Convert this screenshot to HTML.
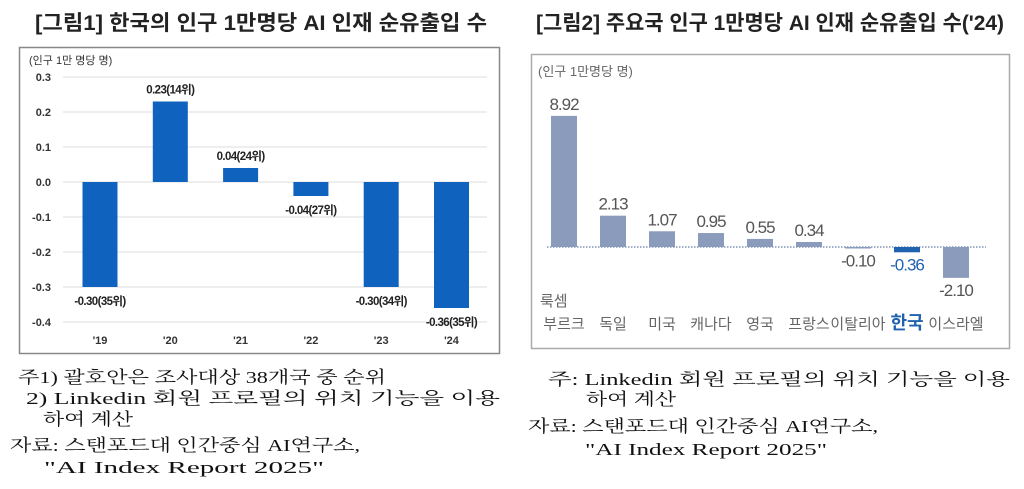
<!DOCTYPE html>
<html><head><meta charset="utf-8"><style>
body{margin:0;background:#fff;}
svg{display:block;}
.t{font-family:"Liberation Sans","Noto Sans CJK KR",sans-serif;}
.s{font-family:"Liberation Serif","Noto Serif CJK SC",serif;}
</style></head><body>
<svg id="root" width="1024" height="489" viewBox="0 0 1024 489" xmlns="http://www.w3.org/2000/svg">
<text class="t" x="261" y="30" text-anchor="middle" font-size="21" font-weight="bold" fill="#222" textLength="452" lengthAdjust="spacingAndGlyphs">[그림1] 한국의 인구 1만명당 AI 인재 순유출입 수</text>
<text class="t" x="770" y="30" text-anchor="middle" font-size="21" font-weight="bold" fill="#222" textLength="468" lengthAdjust="spacingAndGlyphs">[그림2] 주요국 인구 1만명당 AI 인재 순유출입 수('24)</text>
<rect x="19.5" y="47.5" width="480" height="306" fill="none" stroke="#888" stroke-width="1.5"/>
<text class="t" x="29" y="64" font-size="11" fill="#333">(인구 1만 명당 명)</text>
<g id="c1"></g>
<rect x="531.5" y="54.5" width="478" height="294" fill="none" stroke="#aaa" stroke-width="1.5"/>
<text class="t" x="538" y="76" font-size="13" fill="#666">(인구 1만명당 명)</text>
<g id="c2"></g>
<g class="s" font-size="17" fill="#111">
<text x="18" y="383" textLength="368" lengthAdjust="spacingAndGlyphs">주1) 괄호안은 조사대상 38개국 중 순위</text>
<text x="26" y="404" textLength="474" lengthAdjust="spacingAndGlyphs">2) Linkedin 회원 프로필의 위치 기능을 이용</text>
<text x="43" y="425" textLength="90" lengthAdjust="spacingAndGlyphs">하여 계산</text>
<text x="10" y="451" textLength="350" lengthAdjust="spacingAndGlyphs">자료: 스탠포드대 인간중심 AI연구소,</text>
<text x="44" y="473" textLength="280" lengthAdjust="spacingAndGlyphs">"AI Index Report 2025"</text>
<text x="548" y="385" textLength="462" lengthAdjust="spacingAndGlyphs">주: Linkedin 회원 프로필의 위치 기능을 이용</text>
<text x="586" y="405" textLength="90" lengthAdjust="spacingAndGlyphs">하여 계산</text>
<text x="528" y="432" textLength="350" lengthAdjust="spacingAndGlyphs">자료: 스탠포드대 인간중심 AI연구소,</text>
<text x="585" y="455" textLength="242" lengthAdjust="spacingAndGlyphs">"AI Index Report 2025"</text>
</g>
</svg>
<script>
const NS="http://www.w3.org/2000/svg";
// chart 1 data
const years=["'19","'20","'21","'22","'23","'24"];
const values1=[-0.30,0.23,0.04,-0.04,-0.30,-0.36];
const ranks1=["35위","14위","24위","27위","34위","35위"];
const ticks1=[0.3,0.2,0.1,0.0,-0.1,-0.2,-0.3,-0.4];
// chart 2 data
const countries=["부르크","독일","미국","캐나다","영국","프랑스","이탈리아","한국","이스라엘"];
const values2=[8.92,2.13,1.07,0.95,0.55,0.34,-0.10,-0.36,-2.10];

function mk(tag,attrs,parent,txt){const e=document.createElementNS(NS,tag);for(const k in attrs)e.setAttribute(k,attrs[k]);if(txt!==undefined)e.textContent=txt;parent.appendChild(e);return e;}

// chart1
const g1=document.getElementById('c1');
const y1=v=>182-v*350;
const x1=i=>100+i*70.3;
ticks1.forEach(t=>{
  const l=mk('line',{x1:63,x2:487,y1:y1(t),y2:y1(t),stroke:'#ddd','stroke-width':1},g1);
  
  
  const tx=mk('text',{x:51,y:y1(t)+4,'text-anchor':'end','font-size':11,'font-weight':'bold',fill:'#333',class:'t'},g1,t.toFixed(1));
  
  
});
values1.forEach((v,i)=>{
  const top=Math.min(y1(v),y1(0)),h=Math.abs(y1(v)-y1(0));
  const r=mk('rect',{x:x1(i)-17.5,y:top,width:35,height:h,fill:'#0f63be'},g1);
  
  
  const ly=v>=0?y1(v)-8:y1(v)+18;
  const lab=mk('text',{x:x1(i),y:ly,'text-anchor':'middle','font-size':11.5,'font-weight':'bold',fill:'#222',class:'t','letter-spacing':'-0.6'},g1,v.toFixed(2)+'('+ranks1[i]+')');
  
  
  const xl=mk('text',{x:x1(i),y:344,'text-anchor':'middle','font-size':11,'font-weight':'bold',fill:'#333',class:'t'},g1,years[i]);
  
  
});

// chart2
const g2=document.getElementById('c2');
const y2=v=>247-v*14.7;
const x2=i=>564+i*49;
const bl=mk('line',{x1:547,x2:986,y1:y2(0),y2:y2(0),stroke:'#6b7fa6','stroke-width':1.2,'stroke-dasharray':'1.5 1.5'},g2);


values2.forEach((v,i)=>{
  const kr=countries[i]==='한국';
  const top=Math.min(y2(v),y2(0)),h=Math.max(Math.abs(y2(v)-y2(0)),1.5);
  const r=mk('rect',{x:x2(i)-13,y:top,width:26,height:h,fill:kr?'#1f62b0':'#8a9bbb'},g2);
  
  
  const ly=v>=0?y2(v)-6:y2(v)+18;
  const lab=mk('text',{x:x2(i),y:ly,'text-anchor':'middle','font-size':17,fill:kr?'#1f62b0':'#555',class:'t','letter-spacing':'-1'},g2,v.toFixed(2));
  
  
  const cl=mk('text',{x:x2(i),y:329,'text-anchor':'middle','font-size':kr?18:15,'font-weight':kr?'bold':'normal',fill:kr?'#1f62b0':'#666',class:'t'},g2,countries[i]);
  
  
});
const lx=mk('text',{x:540,y:306,'font-size':15,fill:'#666',class:'t'},g2,'룩셈');


</script>
</body></html>
